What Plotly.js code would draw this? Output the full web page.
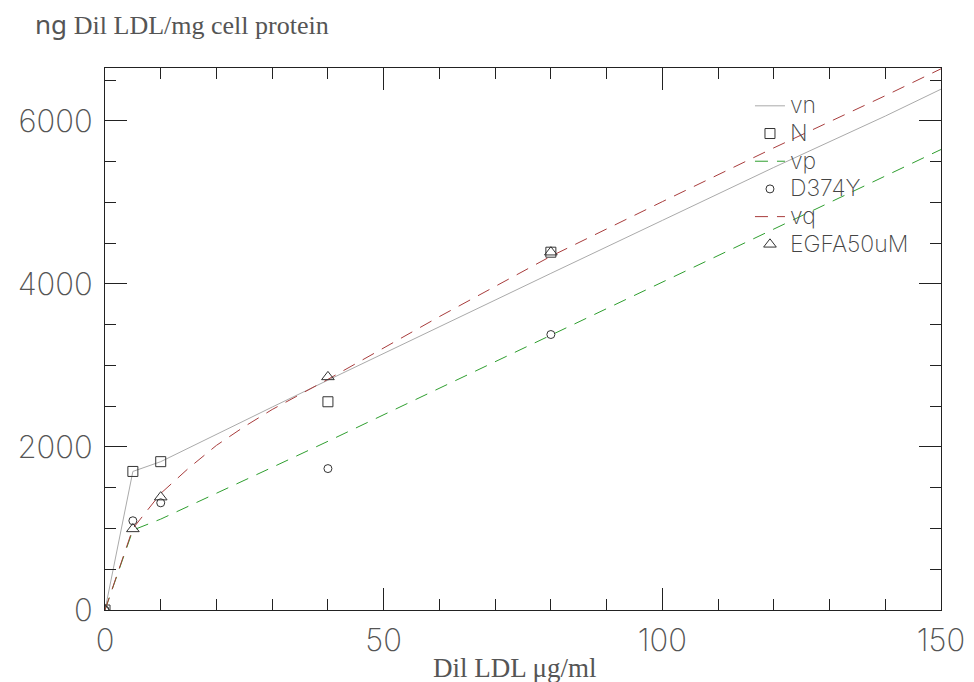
<!DOCTYPE html>
<html>
<head>
<meta charset="utf-8">
<script src="https://cdn.plot.ly/plotly-3.0.1.min.js"></script>
<style>html,body{margin:0;padding:0;background:#fff;}#chart{width:974px;height:682px;}</style>
</head>
<body>
<div id="chart"></div>
<script>
// Fitted curves
const xFit = [0, 5, 10, 20, 30, 40, 60, 80, 100, 120, 140, 150];
const vn = [0, 1700, 1820, 2160, 2490, 2820, 3480, 4130, 4780, 5430, 6060, 6390];
const vp = [0, 980, 1115, 1430, 1750, 2070, 2720, 3370, 4020, 4680, 5330, 5650];
const xFitQ = [0, 5, 10, 15, 20, 25, 30, 40, 60, 80, 100, 120, 140, 150];
const vq = [0, 1000, 1430, 1740, 2020, 2250, 2460, 2830, 3600, 4340, 5010, 5670, 6310, 6640];

// Measured points
const xPts = [0, 5, 10, 40, 80];
const N = [0, 1700, 1820, 2555, 4390];
const D374Y = [0, 1095, 1315, 1735, 3380];
const EGFA50uM = [0, 995, 1385, 2860, 4390];

const xTicks = [0, 50, 100, 150];
const yTicks = [0, 2000, 4000, 6000];

const thin = 'Inter, DejaVu Sans, sans-serif';
const markColor = '#333333';
const big = s => '<span style="font-size:23px">' + s + '</span>';

const traces = [
  {name: big('vn'), x: xFit, y: vn, mode: 'lines', line: {color: '#aaaaaa', width: 1}},
  {name: big('N'), x: xPts, y: N, mode: 'markers',
   marker: {symbol: 'square-open', size: 10, color: markColor, line: {width: 1, color: markColor}}},
  {name: big('vp'), x: xFit, y: vp, mode: 'lines', line: {color: '#2e9e2e', width: 1, dash: '13px,9px'}},
  {name: big('D374Y'), x: xPts, y: D374Y, mode: 'markers',
   marker: {symbol: 'circle-open', size: 8, color: markColor, line: {width: 1, color: markColor}}},
  {name: big('vq'), x: xFitQ, y: vq, mode: 'lines', line: {color: '#a83c3c', width: 1, dash: '13px,9px'}},
  {name: big('EGFA50uM'), x: xPts, y: EGFA50uM, mode: 'markers',
   marker: {symbol: 'triangle-up-open', size: 11, color: markColor, line: {width: 1, color: markColor}}}
];

const axisCommon = {
  showline: true, linecolor: '#222', linewidth: 1, mirror: 'ticks',
  ticks: 'inside', ticklen: 22, tickwidth: 1, tickcolor: '#222',
  showgrid: false, zeroline: false,
  tickfont: {family: thin, size: 31, color: '#555', weight: 200}
};

const layout = {
  width: 974, height: 682,
  margin: {l: 105, r: 33, t: 68, b: 72},
  paper_bgcolor: '#fff', plot_bgcolor: '#fff',
  showlegend: true,
  legend: {x: 0.7715, y: 0.965, xanchor: 'left', yanchor: 'top', bgcolor: 'rgba(0,0,0,0)',
           font: {family: thin, size: 19, color: '#444', weight: 200}, tracegroupgap: 0},
  xaxis: Object.assign({}, axisCommon, {
    range: [0, 150], tickvals: xTicks, ticktext: xTicks.map(String), ticklabelstandoff: 3,
    minor: {dtick: 10, tick0: 0, ticks: 'inside', ticklen: 11, tickcolor: '#222', showgrid: false}
  }),
  yaxis: Object.assign({}, axisCommon, {
    range: [0, 6650], tickvals: yTicks, ticktext: yTicks.map(String), ticklabelstandoff: 5,
    minor: {dtick: 500, tick0: 0, ticks: 'inside', ticklen: 11, tickcolor: '#222', showgrid: false}
  }),
  annotations: [
    {text: 'ng <span style="font-family:Liberation Serif, Times New Roman, serif">Dil LDL/mg cell protein</span>',
     xref: 'paper', yref: 'paper', x: -0.0861, y: 1.0812, xanchor: 'left', yanchor: 'middle',
     showarrow: false, font: {family: 'Noto Sans, sans-serif', size: 26, color: '#555'}},
    {text: 'Dil LDL μg/ml', xref: 'paper', yref: 'paper', x: 0.4904, y: -0.107,
     xanchor: 'center', yanchor: 'middle', showarrow: false,
     font: {family: 'Liberation Serif, Times New Roman, serif', size: 27, color: '#555'}}
  ]
};

Plotly.newPlot('chart', traces, layout, {displayModeBar: false, staticPlot: true});
</script>
</body>
</html>
